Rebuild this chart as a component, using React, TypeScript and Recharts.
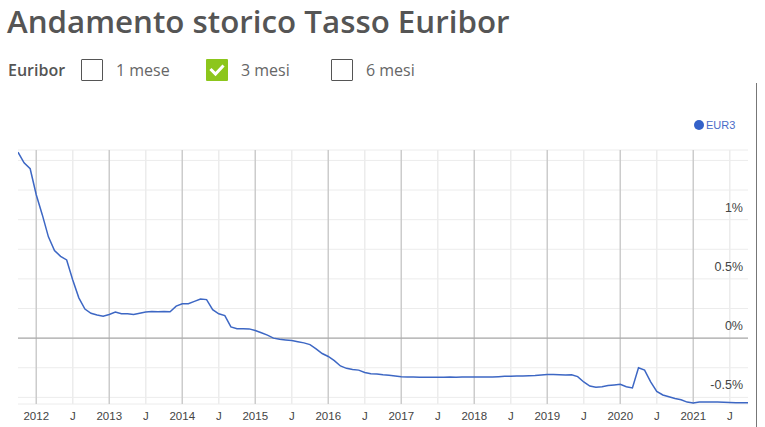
import React from "react";
import {
  LineChart,
  Line,
  XAxis,
  YAxis,
  CartesianGrid,
  ReferenceLine,
} from "recharts";

// Monthly 3M Euribor, Oct 2011 .. Oct 2021 (%)
const START_YEAR = 2011;
const START_MONTH = 9; // October (0-based)
const SERIES_NAME = "EUR3";
const eur3Values: number[] = [
  // 2011 Oct-Dec
  1.57, 1.48, 1.43,
  // 2012
  1.21, 1.04, 0.855, 0.74, 0.69, 0.66, 0.49, 0.34, 0.245, 0.21, 0.195, 0.185,
  // 2013
  0.2, 0.22, 0.205, 0.205, 0.2, 0.21, 0.22, 0.225, 0.222, 0.225, 0.223, 0.27,
  // 2014
  0.29, 0.29, 0.31, 0.33, 0.325, 0.24, 0.205, 0.19, 0.095, 0.08, 0.08, 0.078,
  // 2015
  0.065, 0.045, 0.025, 0.0, -0.01, -0.015, -0.02, -0.03, -0.04, -0.055, -0.09, -0.13,
  // 2016
  -0.155, -0.19, -0.235, -0.255, -0.265, -0.27, -0.29, -0.3, -0.303, -0.31, -0.313, -0.32,
  // 2017
  -0.326, -0.328, -0.329, -0.33, -0.33, -0.33, -0.33, -0.33, -0.329, -0.33, -0.329, -0.329,
  // 2018
  -0.328, -0.328, -0.328, -0.328, -0.325, -0.322, -0.321, -0.319, -0.319, -0.318, -0.316, -0.312,
  // 2019
  -0.308, -0.308, -0.309, -0.311, -0.31, -0.325, -0.37, -0.405, -0.415, -0.41, -0.4, -0.395,
  // 2020
  -0.39, -0.41, -0.42, -0.25, -0.27, -0.37, -0.45, -0.48, -0.495, -0.51, -0.52, -0.54,
  // 2021 Jan-Oct
  -0.547, -0.54, -0.54, -0.54, -0.54, -0.541, -0.543, -0.545, -0.546, -0.546,
];

const xTicks: number[] = [
  2012, 2012.5, 2013, 2013.5, 2014, 2014.5, 2015, 2015.5, 2016, 2016.5,
  2017, 2017.5, 2018, 2018.5, 2019, 2019.5, 2020, 2020.5, 2021, 2021.5,
];
const yTicks: number[] = [-0.5, -0.25, 0, 0.25, 0.5, 0.75, 1, 1.25, 1.5];
const yLabelled: number[] = [-0.5, 0, 0.5, 1];
const checkboxOptions = [
  { label: "1 mese", checked: false },
  { label: "3 mesi", checked: true },
  { label: "6 mesi", checked: false },
];

const data = eur3Values.map((v, i) => ({
  t: START_YEAR + (START_MONTH + i) / 12,
  [SERIES_NAME]: v,
}));

const BLUE = "#3d67c4";
const PLOT_RIGHT = 748;

const YTick = (props: any) => {
  const { y, payload } = props;
  if (!yLabelled.includes(payload.value)) return <g />;
  const txt = `${String(payload.value)}%`;
  return (
    <text
      x={PLOT_RIGHT - 5}
      y={y - 8}
      textAnchor="end"
      fill="#444"
      fontSize={12.5}
      fontFamily="Liberation Sans, Arial, sans-serif"
    >
      {txt}
    </text>
  );
};

const Checkbox = ({ checked }: { checked: boolean }) =>
  checked ? (
    <span
      style={{
        display: "inline-block",
        width: 22,
        height: 22,
        background: "#8cc61c",
        borderRadius: 1,
        position: "relative",
      }}
    >
      <svg width={22} height={22} style={{ position: "absolute", left: 0, top: 0 }}>
        <polyline
          points="5.5,11 9.5,15 16.5,7.5"
          fill="none"
          stroke="#fff"
          strokeWidth={3}
          strokeLinecap="square"
        />
      </svg>
    </span>
  ) : (
    <span
      style={{
        display: "inline-block",
        width: 20,
        height: 20,
        border: "1px solid #555",
        borderRadius: 1,
        background: "#fff",
      }}
    />
  );

export default function App() {
  return (
    <div
      style={{
        position: "absolute",
        left: 0,
        top: 0,
        width: 765,
        height: 427,
        background: "#fff",
        fontFamily: "'Open Sans', sans-serif",
      }}
    >
      <div
        style={{
          position: "absolute",
          left: 7,
          top: 0,
          fontSize: 31.3,
          lineHeight: "normal",
          fontWeight: 600,
          color: "#555",
          whiteSpace: "nowrap",
        }}
      >
        Andamento storico Tasso Euribor
      </div>
      <div
        style={{
          position: "absolute",
          left: 8,
          top: 58,
          height: 24,
          display: "flex",
          alignItems: "center",
          fontSize: 16,
          color: "#555",
          whiteSpace: "nowrap",
        }}
      >
        <span style={{ fontWeight: 600, width: 73 }}>Euribor</span>
        {checkboxOptions.map((o) => (
          <span
            key={o.label}
            style={{ display: "inline-flex", alignItems: "center", width: 125 }}
          >
            <Checkbox checked={o.checked} />
            <span style={{ marginLeft: 13, color: "#666" }}>{o.label}</span>
          </span>
        ))}
      </div>
      <div
        style={{
          position: "absolute",
          left: 694,
          top: 119,
          display: "flex",
          alignItems: "center",
          fontFamily: "Liberation Sans, Arial, sans-serif",
          fontSize: 11,
          color: "#4a6cc8",
        }}
      >
        <span
          style={{
            display: "inline-block",
            width: 10,
            height: 10,
            borderRadius: 5,
            background: "#3461c9",
            marginRight: 2,
          }}
        />
        {SERIES_NAME}
      </div>
      <div
        style={{
          position: "absolute",
          left: 756,
          top: 83,
          width: 1,
          height: 344,
          background: "#777",
        }}
      />
      <div style={{ position: "absolute", left: 0, top: 0 }}>
        <LineChart
          width={765}
          height={427}
          data={data}
          margin={{ top: 150, left: 18, right: 765 - PLOT_RIGHT - 1, bottom: 0 }}
        >
          <CartesianGrid vertical={false} stroke="#ececec" strokeWidth={1} />
          {xTicks.map((t) => (
            <ReferenceLine
              key={t}
              x={t}
              stroke={Number.isInteger(t) ? "#cccccc" : "#ececec"}
              strokeWidth={1.5}
            />
          ))}
          <ReferenceLine y={0} stroke="#aaaaaa" strokeWidth={1.2} />
          <XAxis
            dataKey="t"
            type="number"
            height={23}
            domain={[2011.75, 2021.75]}
            ticks={xTicks}
            allowDataOverflow
            axisLine={false}
            tickLine={false}
            interval={0}
            tick={{ fill: "#444", fontSize: 11.5, fontFamily: "Liberation Sans, Arial, sans-serif" }}
            tickFormatter={(v: number) => (Number.isInteger(v) ? String(v) : "J")}
          />
          <YAxis
            orientation="right"
            width={1}
            type="number"
            domain={[-0.556, 1.588]}
            ticks={yTicks}
            allowDataOverflow
            axisLine={false}
            tickLine={false}
            interval={0}
            tick={<YTick />}
          />
          <Line
            type="linear"
            dataKey={SERIES_NAME}
            stroke={BLUE}
            strokeWidth={1.5}
            dot={false}
            isAnimationActive={false}
          />
        </LineChart>
      </div>
    </div>
  );
}
